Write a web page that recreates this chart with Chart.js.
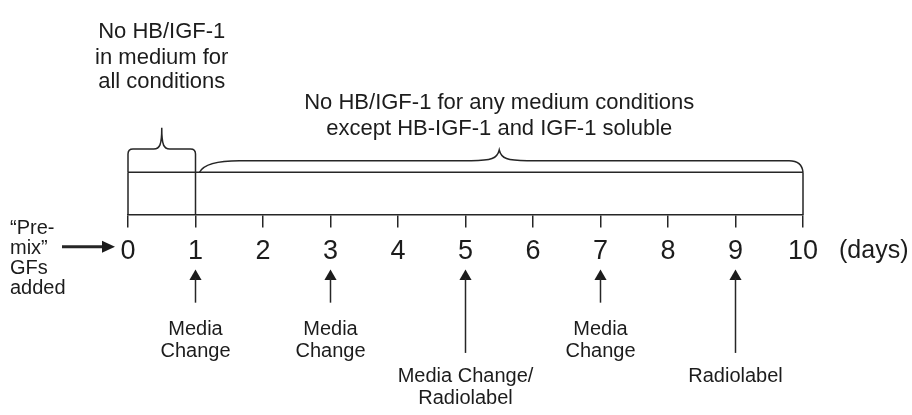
<!DOCTYPE html>
<html>
<head>
<meta charset="utf-8">
<script src="https://cdn.jsdelivr.net/npm/chart.js@4.4.1/dist/chart.umd.min.js"></script>
<style>
  html, body { margin: 0; padding: 0; background: #fff; }
</style>
</head>
<body>
<canvas id="timeline" width="912" height="415"></canvas>
<script>
// ---- data ----
const days = [0, 1, 2, 3, 4, 5, 6, 7, 8, 9, 10];
const tickLabels = ['0', '1', '2', '3', '4', '5', '6', '7', '8', '9', '10'];
const unitLabel = '(days)';

const phaseFrom = [0, 1];
const phaseTo = [1, 10];
const phaseLabels = [
    ['No HB/IGF-1', 'in medium for', 'all conditions'],
    ['No HB/IGF-1 for any medium conditions', 'except HB-IGF-1 and IGF-1 soluble']
];

const eventDays = [1, 3, 5, 7, 9];
const eventTiers = [0, 0, 1, 0, 1];
const eventLabels = [
    ['Media', 'Change'],
    ['Media', 'Change'],
    ['Media Change/', 'Radiolabel'],
    ['Media', 'Change'],
    ['Radiolabel']
];

const startLabel = ['\u201cPre-', 'mix\u201d', 'GFs', 'added'];

// ---- layout / style ----
const INK = '#1c1c1c';
const LINE = '#262626';
const FONT = "'Liberation Sans', Arial, Helvetica, sans-serif";
const AXIS_Y = 215;     // timeline axis
const BOX_Y = 171;      // upper line of the box
const ARROW_TIP = 272;
const ARROW_END = [306, 358];          // shaft end per tier
const LABEL_BASE = [[339, 362], [388, 411]];
const PHASE_BASE = [[32, 58.5, 84], [106, 132]];

function brace(ctx, L, R, base, level, tip, mid, square) {
    ctx.beginPath();
    if (square) {
        const r = 5;
        ctx.moveTo(L, base);
        ctx.lineTo(L, level + r);
        ctx.quadraticCurveTo(L, level, L + r, level);
        ctx.lineTo(mid - 8, level);
        ctx.bezierCurveTo(mid - 2, level, mid, level - 4, mid, tip);
        ctx.bezierCurveTo(mid, level - 4, mid + 2, level, mid + 8, level);
        ctx.lineTo(R - r, level);
        ctx.quadraticCurveTo(R, level, R, level + r);
        ctx.lineTo(R, base);
    } else {
        ctx.moveTo(L, base);
        ctx.bezierCurveTo(L + 4, base - 8, L + 16, level, L + 40, level);
        ctx.lineTo(mid - 28, level);
        ctx.bezierCurveTo(mid - 8, level, mid - 2, level - 2, mid, tip);
        ctx.bezierCurveTo(mid + 2, level - 2, mid + 8, level, mid + 28, level);
        ctx.lineTo(R - 14, level);
        ctx.quadraticCurveTo(R - 1, level, R, base);
    }
    ctx.stroke();
}

const decor = {
    id: 'decor',
    afterDraw(chart) {
        const { ctx, scales: { x, y } } = chart;
        const px = v => x.getPixelForValue(v);
        const py = v => y.getPixelForValue(v);
        const first = days[0], last = days[days.length - 1];
        ctx.save();
        ctx.strokeStyle = LINE;
        ctx.lineWidth = 1.5;
        ctx.lineCap = 'butt';

        // box: upper line + phase boundaries down to the axis
        ctx.beginPath();
        ctx.moveTo(px(first), py(BOX_Y));
        ctx.lineTo(px(last), py(BOX_Y));
        [phaseFrom[0], ...phaseTo].forEach(d => {
            ctx.moveTo(px(d), py(BOX_Y));
            ctx.lineTo(px(d), py(AXIS_Y));
        });
        ctx.stroke();

        // braces and phase texts
        ctx.fillStyle = INK;
        ctx.textAlign = 'center';
        ctx.textBaseline = 'alphabetic';
        ctx.font = '22px ' + FONT;
        phaseFrom.forEach((d0, i) => {
            const d1 = phaseTo[i];
            const square = (d1 - d0) < 2;
            const mid = px((d0 + d1) / 2);
            if (square) {
                brace(ctx, px(d0), px(d1), py(BOX_Y), py(147), py(125), mid, true);
            } else {
                brace(ctx, px(d0) + 4, px(d1), py(BOX_Y), py(159), py(148), mid, false);
            }
            phaseLabels[i].forEach((t, k) => ctx.fillText(t, mid, py(PHASE_BASE[i][k])));
        });

        // unit label
        ctx.textAlign = 'left';
        ctx.font = '25px ' + FONT;
        ctx.fillText(unitLabel, px(last) + 36, py(260));

        // start note with arrow
        ctx.font = '20px ' + FONT;
        startLabel.forEach((t, k) => ctx.fillText(t, 10, py(235 + k * 20.7)));
        const ay = py(248);
        ctx.lineWidth = 3;
        ctx.beginPath();
        ctx.moveTo(px(first) - 66, ay);
        ctx.lineTo(px(first) - 22, ay);
        ctx.stroke();
        ctx.beginPath();
        ctx.moveTo(px(first) - 13, ay);
        ctx.lineTo(px(first) - 26, ay - 6);
        ctx.lineTo(px(first) - 26, ay + 6);
        ctx.closePath();
        ctx.fill();

        // event arrow shafts and labels
        ctx.lineWidth = 1.5;
        ctx.textAlign = 'center';
        eventDays.forEach((d, i) => {
            const ex = px(d);
            ctx.beginPath();
            ctx.moveTo(ex, py(ARROW_TIP + 8));
            ctx.lineTo(ex, py(ARROW_END[eventTiers[i]]));
            ctx.stroke();
            eventLabels[i].forEach((t, k) => ctx.fillText(t, ex, py(LABEL_BASE[eventTiers[i]][k])));
        });
        ctx.restore();
    }
};

new Chart(document.getElementById('timeline'), {
    type: 'scatter',
    data: {
        datasets: [{
            label: 'events',
            data: eventDays.map(d => ({ x: d, y: ARROW_TIP + 7 })),
            pointStyle: 'triangle',
            pointRadius: 7,
            pointHoverRadius: 7,
            backgroundColor: INK,
            borderColor: INK,
            borderWidth: 0,
            clip: false
        }]
    },
    options: {
        responsive: false,
        animation: false,
        events: [],
        layout: { padding: { left: 128, right: 109, top: 0, bottom: 0 } },
        plugins: { legend: { display: false }, tooltip: { enabled: false } },
        scales: {
            x: {
                type: 'linear',
                min: 0,
                max: 10,
                position: { y: AXIS_Y },
                afterBuildTicks: s => { s.ticks = days.map(v => ({ value: v })); },
                ticks: {
                    callback: v => tickLabels[days.indexOf(v)],
                    font: { size: 27, family: FONT },
                    color: INK,
                    padding: 9,
                    maxRotation: 0,
                    autoSkip: false
                },
                grid: { drawOnChartArea: false, drawTicks: true, tickLength: 12, color: LINE, lineWidth: 1.5 },
                border: { display: true, color: LINE, width: 1.5 }
            },
            y: { type: 'linear', min: 0, max: 415, reverse: true, display: false }
        }
    },
    plugins: [decor]
});
</script>
</body>
</html>
